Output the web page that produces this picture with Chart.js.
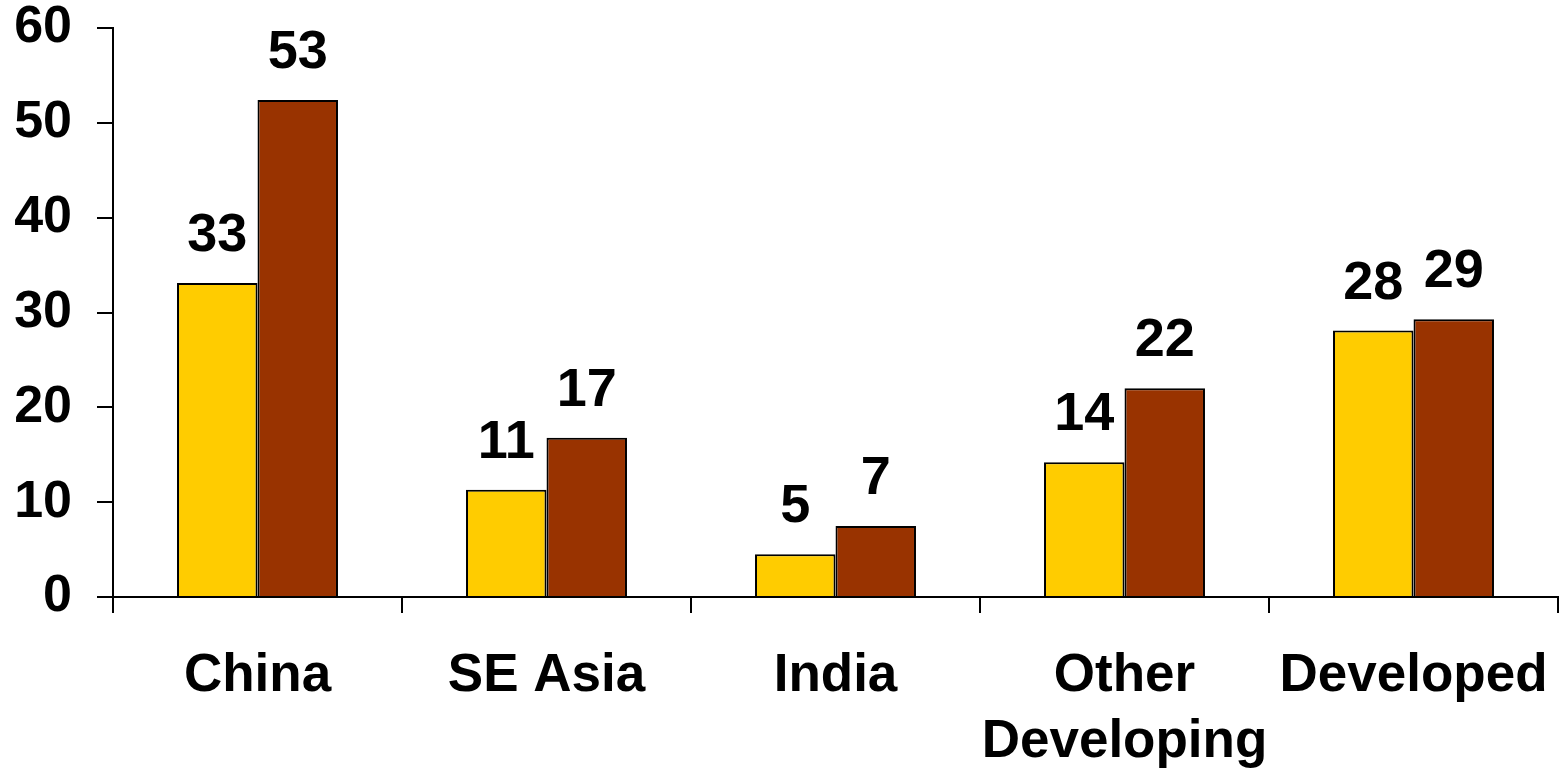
<!DOCTYPE html>
<html>
<head>
<meta charset="utf-8">
<script src="https://cdn.jsdelivr.net/npm/chart.js@4"></script>
<style>
  html, body { margin: 0; padding: 0; background: #fff; }
  #wrap { width: 1560px; height: 770px; position: relative; }
</style>
</head>
<body>
<div id="wrap"><canvas id="myChart"></canvas></div>
<script>
// categories and values
const regions = ["China", "SE Asia", "India", ["Other", "Developing"], "Developed"];
const firstValues = [33.1, 11.3, 4.5, 14.2, 28.1];
const secondValues = [52.4, 16.8, 7.5, 22.0, 29.3];
const firstLabels = ["33", "11", "5", "14", "28"];
const secondLabels = ["53", "17", "7", "22", "29"];
const yTicks = [0, 10, 20, 30, 40, 50, 60];

const fontFamily = "'Liberation Sans', Arial, sans-serif";

// draws the number above each bar
const barLabels = {
  id: 'barLabels',
  afterDatasetsDraw(chart) {
    const ctx = chart.ctx;
    ctx.save();
    ctx.font = "bold 54px " + fontFamily;
    ctx.fillStyle = "#000";
    ctx.textAlign = "center";
    ctx.textBaseline = "alphabetic";
    chart.data.datasets.forEach((ds, i) => {
      const meta = chart.getDatasetMeta(i);
      meta.data.forEach((bar, j) => {
        ctx.fillText(ds.valueLabels[j], bar.x, bar.y - 32);
      });
    });
    ctx.restore();
  }
};

const data = {
  labels: regions,
  datasets: [
    {
      label: "First",
      data: firstValues,
      valueLabels: firstLabels,
      backgroundColor: "#FFCC00",
      borderColor: "#000",
      borderWidth: 2,
      borderSkipped: 'bottom'
    },
    {
      label: "Second",
      data: secondValues,
      valueLabels: secondLabels,
      backgroundColor: "#993300",
      borderColor: "#000",
      borderWidth: 2,
      borderSkipped: 'bottom'
    }
  ]
};

const config = {
  type: 'bar',
  data: data,
  options: {
    responsive: true,
    maintainAspectRatio: false,
    animation: false,
    layout: { padding: { top: 28, right: 2, left: 0, bottom: 0 } },
    datasets: {
      bar: { categoryPercentage: 0.557, barPercentage: 1.0 }
    },
    plugins: {
      legend: { display: false },
      title: { display: false },
      tooltip: { enabled: false }
    },
    scales: {
      x: {
        afterFit(scale) {
          scale.height = 173;
          scale.paddingLeft = 0;
          scale.paddingRight = 0;
        },
        grid: {
          offset: true,
          drawOnChartArea: false,
          tickLength: 16,
          color: "#000",
          lineWidth: 2
        },
        border: { color: "#000", width: 2 },
        ticks: {
          color: "#000",
          padding: 30,
          maxRotation: 0,
          autoSkip: false,
          font: { family: fontFamily, size: 53, weight: 'bold', lineHeight: 1.25 }
        }
      },
      y: {
        min: 0,
        max: 60,
        afterFit(scale) {
          scale.width = 113;
          scale.paddingTop = 0;
          scale.paddingBottom = 0;
        },
        afterBuildTicks(scale) { scale.ticks = yTicks.map(v => ({ value: v })); },
        grid: {
          drawOnChartArea: false,
          tickLength: 16,
          color: "#000",
          lineWidth: 2
        },
        border: { color: "#000", width: 2 },
        ticks: {
          color: "#000",
          padding: 25,
          font: { family: fontFamily, size: 52, weight: 'bold', lineHeight: 1 }
        }
      }
    }
  },
  plugins: [barLabels]
};

const myBarChart = new Chart(
  document.getElementById('myChart'),
  config
);
</script>
</body>
</html>
